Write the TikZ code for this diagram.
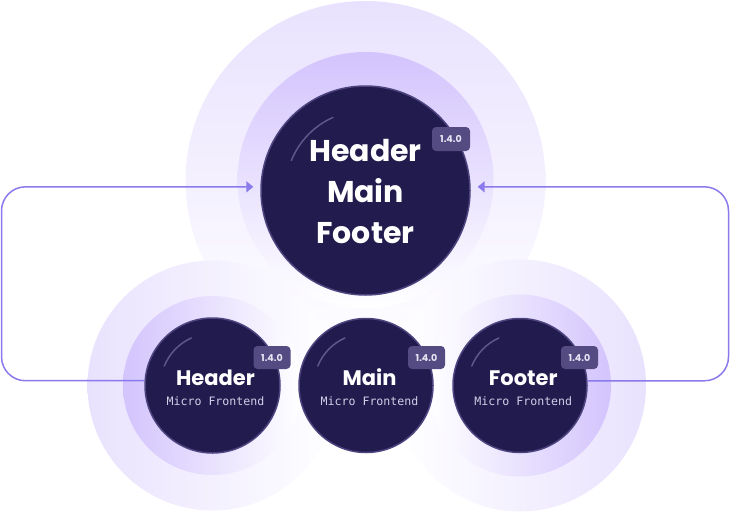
\documentclass[tikz,border=0pt]{standalone}
\usepackage{fontspec}
\setmainfont{Poppins}
\newfontfamily\monof{DejaVu Sans Mono}
\usetikzlibrary{arrows.meta,calc}
\definecolor{navy}{HTML}{221C4E}
\definecolor{rim}{HTML}{4D4480}
\definecolor{badgec}{HTML}{554B83}
\definecolor{linec}{HTML}{8A7AEB}
\definecolor{ringA}{HTML}{E9E2FE}
\definecolor{ringB}{HTML}{D3C4FD}
\definecolor{hlc}{HTML}{5E5889}
\definecolor{badgetxt}{HTML}{E9E6F4}
\definecolor{subtxt}{HTML}{D2CDE8}
\tikzset{
  mf/.style={circle, fill=navy, draw=rim, line width=1.5pt, inner sep=0pt},
  badge/.style={fill=badgec, rounded corners=4pt, minimum width=37pt, minimum height=23pt,
    inner sep=0pt, text=badgetxt, font=\fontsize{9.5}{10}\selectfont\bfseries},
  bigtxt/.style={text=white, align=center, inner sep=0pt, font=\fontsize{30}{41}\selectfont\bfseries},
  midtxt/.style={text=white, inner sep=0pt, anchor=base, font=\fontsize{21}{24}\selectfont\bfseries},
  subtitle/.style={text=subtxt, inner sep=0pt, anchor=base, font=\fontsize{11.6}{13}\selectfont\monof},
  conn/.style={draw=linec, line width=1.5pt, rounded corners=24pt,
    -{Triangle[length=7pt,width=11pt]}, shorten >=7pt},
  hl/.style={draw=hlc, line width=1.5pt, line cap=round},
}
\begin{document}
\begin{tikzpicture}[x=1pt,y=-1pt]
\useasboundingbox (0,0) rectangle (730,511);
% glows of the top circle
\shade[top color=ringA, middle color=ringA!75!white, bottom color=white] (365.5,181) circle[radius=180pt];
\shade[top color=ringB, middle color=ringB!55!white, bottom color=white] (365.5,180) circle[radius=128pt];
% glows of the small circles
\shade[left color=ringA, middle color=ringA!75!white, right color=white] (212.5,385.5) circle[radius=125pt];
\shade[right color=ringA, middle color=ringA!75!white, left color=white] (520,385.5) circle[radius=126pt];
\shade[left color=ringB, middle color=ringB!80!white, right color=white] (212.5,385.5) circle[radius=89.5pt];
\shade[right color=ringB, middle color=ringB!80!white, left color=white] (520,385.5) circle[radius=91pt];
% circles
\node[mf, minimum size=209pt] (top) at (365.5,190.5) {};
\node[mf, minimum size=135pt] (hdr) at (212.5,385.5) {};
\node[mf, minimum size=134pt] (mn) at (366,385.5) {};
\node[mf, minimum size=134pt] (ftr) at (520,385.5) {};
% connectors
\coordinate (lx) at (1.5,0);
\coordinate (rx) at (728.5,0);
\draw[conn] (hdr.176) -| (lx |- top.178) -- (top.178);
\draw[conn] (ftr.4) -| (rx |- top.2) -- (top.2);
% highlights
\draw[hl] ($(top.center)+(114:80pt)$) arc[start angle=114, end angle=158, radius=80pt];
\foreach \c in {hdr,mn,ftr}{
  \draw[hl] ($(\c.center)+(114:52pt)$) arc[start angle=114, end angle=158, radius=52pt];
}
% texts
\node[bigtxt] (toptxt) at (365.5,191.5) {Header\\Main\\Footer};
\node[midtxt] (hdrT) at (215.5,385) {Header};
\node[subtitle] (hdrS) at (215.5,405) {Micro Frontend};
\node[midtxt] (mnT) at (369.5,385) {Main};
\node[subtitle] (mnS) at (369.5,405) {Micro Frontend};
\node[midtxt] (ftrT) at (523.3,385) {Footer};
\node[subtitle] (ftrS) at (523.3,405) {Micro Frontend};
% badges
\node[badge, minimum width=38pt, minimum height=24pt] (b0) at (451,139) {1.4.0};
\node[badge] (b1) at (272,357.5) {1.4.0};
\node[badge] (b2) at (426.5,357.5) {1.4.0};
\node[badge] (b3) at (579.5,357.5) {1.4.0};
\end{tikzpicture}
\end{document}
